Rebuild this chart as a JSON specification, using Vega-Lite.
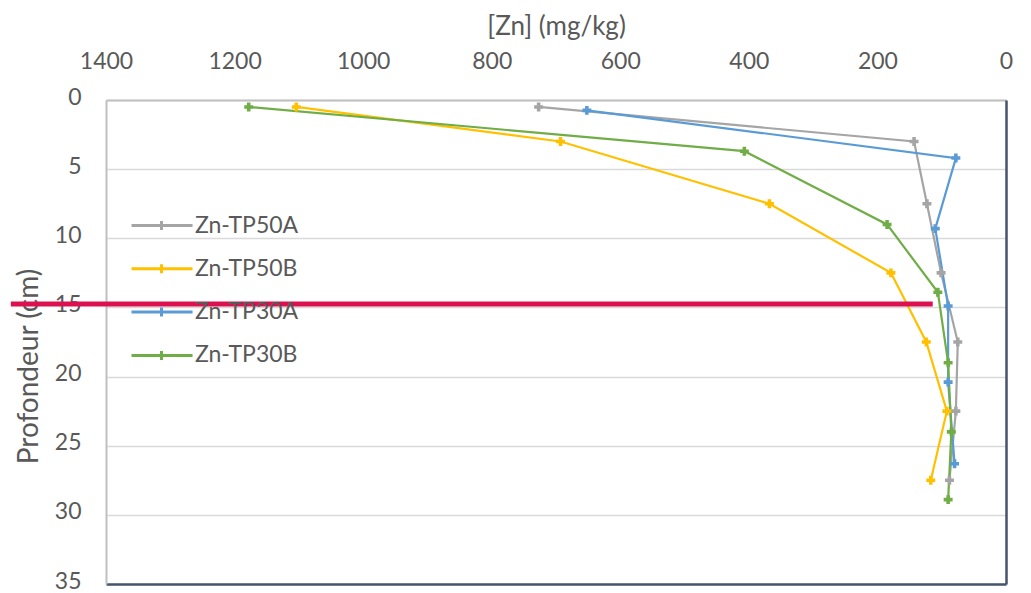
{
  "$schema": "https://vega.github.io/schema/vega-lite/v6.json",
  "width": 900,
  "height": 484,
  "autosize": {"type": "none"},
  "padding": {"left": 106, "top": 100, "right": 25, "bottom": 9},
  "background": "white",
  "config": {"view": {"stroke": null}, "font": "Lato"},
  "datasets": {
    "zn": [
      {"s": "Zn-TP50A", "zn": 727, "d": 0.5},
      {"s": "Zn-TP50A", "zn": 143, "d": 3},
      {"s": "Zn-TP50A", "zn": 123, "d": 7.5},
      {"s": "Zn-TP50A", "zn": 101, "d": 12.5},
      {"s": "Zn-TP50A", "zn": 75, "d": 17.5},
      {"s": "Zn-TP50A", "zn": 78, "d": 22.5},
      {"s": "Zn-TP50A", "zn": 88, "d": 27.5},
      {"s": "Zn-TP50B", "zn": 1104, "d": 0.5},
      {"s": "Zn-TP50B", "zn": 693, "d": 3},
      {"s": "Zn-TP50B", "zn": 368, "d": 7.5},
      {"s": "Zn-TP50B", "zn": 179, "d": 12.5},
      {"s": "Zn-TP50B", "zn": 124, "d": 17.5},
      {"s": "Zn-TP50B", "zn": 92, "d": 22.5},
      {"s": "Zn-TP50B", "zn": 117, "d": 27.5},
      {"s": "Zn-TP30A", "zn": 652, "d": 0.75},
      {"s": "Zn-TP30A", "zn": 78, "d": 4.2},
      {"s": "Zn-TP30A", "zn": 110, "d": 9.3},
      {"s": "Zn-TP30A", "zn": 90, "d": 14.9},
      {"s": "Zn-TP30A", "zn": 90, "d": 20.4},
      {"s": "Zn-TP30A", "zn": 80, "d": 26.3},
      {"s": "Zn-TP30B", "zn": 1178, "d": 0.5},
      {"s": "Zn-TP30B", "zn": 407, "d": 3.7},
      {"s": "Zn-TP30B", "zn": 185, "d": 9.0},
      {"s": "Zn-TP30B", "zn": 106, "d": 13.9},
      {"s": "Zn-TP30B", "zn": 90, "d": 19.0},
      {"s": "Zn-TP30B", "zn": 85, "d": 24.0},
      {"s": "Zn-TP30B", "zn": 90, "d": 28.9}
    ],
    "marker": [
      {"x1": 1548, "x2": 114, "y": 14.75}
    ]
  },
  "layer": [
    {
      "data": {"name": "zn"},
      "mark": {"type": "line", "strokeWidth": 2.2, "point": {"shape": "cross", "size": 80, "filled": true}},
      "encoding": {
        "x": {
          "field": "zn", "type": "quantitative",
          "scale": {"domain": [0, 1400], "reverse": true, "nice": false},
          "axis": {
            "orient": "top", "values": [0, 200, 400, 600, 800, 1000, 1200, 1400], "format": "d",
            "grid": false, "ticks": false, "domainColor": "#bfbfbf", "domainWidth": 2,
            "labelFlush": false, "labelOverlap": false,
            "labelFontSize": 23, "labelColor": "#595959", "labelPadding": 27,
            "title": "[Zn] (mg/kg)", "titleFontSize": 26, "titleFontWeight": "normal",
            "titleColor": "#595959", "titlePadding": 11
          }
        },
        "y": {
          "field": "d", "type": "quantitative",
          "scale": {"domain": [0, 35], "reverse": true, "nice": false},
          "axis": {
            "orient": "left", "values": [0, 5, 10, 15, 20, 25, 30, 35],
            "grid": true, "gridColor": "#d9d9d9", "gridWidth": 1.5,
            "labelFlush": false, "labelOverlap": false, "labelOffset": -3,
            "ticks": false, "domainColor": "#bfbfbf", "domainWidth": 2,
            "labelFontSize": 23, "labelColor": "#595959", "labelPadding": 25,
            "title": "Profondeur (cm)", "titleFontSize": 28, "titleFontWeight": "normal",
            "titleColor": "#595959", "titlePadding": 11, "titleY": 266
          }
        },
        "color": {
          "field": "s", "type": "nominal",
          "scale": {
            "domain": ["Zn-TP50A", "Zn-TP50B", "Zn-TP30A", "Zn-TP30B"],
            "range": ["#a5a5a5", "#ffc000", "#5b9bd5", "#70ad47"]
          },
          "legend": {
            "orient": "none", "legendX": 9, "legendY": 94, "title": null,
            "padding": 15,
            "symbolType": "M-1,0H3.07M1,-0.3V0.3", "symbolSize": 900,
            "symbolStrokeWidth": 3, "symbolFillColor": "transparent",
            "labelFont": "Lato", "labelFontSize": 23, "labelColor": "#595959",
            "labelOffset": 32, "rowPadding": 14.3
          }
        },
        "order": {"field": "d", "type": "quantitative"}
      }
    },
    {
      "data": {"name": "marker"},
      "mark": {"type": "rule", "color": "#dc1250", "strokeWidth": 5, "clip": false},
      "encoding": {
        "x": {
          "field": "x1", "type": "quantitative",
          "axis": {"orient": "bottom", "labels": false, "ticks": false, "grid": false, "title": null, "domainColor": "#44546a", "domainWidth": 2.5}
        },
        "x2": {"field": "x2"},
        "y": {
          "field": "y", "type": "quantitative",
          "axis": {"orient": "right", "labels": false, "ticks": false, "grid": false, "title": null, "domainColor": "#44546a", "domainWidth": 2.5}
        }
      }
    }
  ],
  "resolve": {"axis": {"x": "independent", "y": "independent"}}
}
